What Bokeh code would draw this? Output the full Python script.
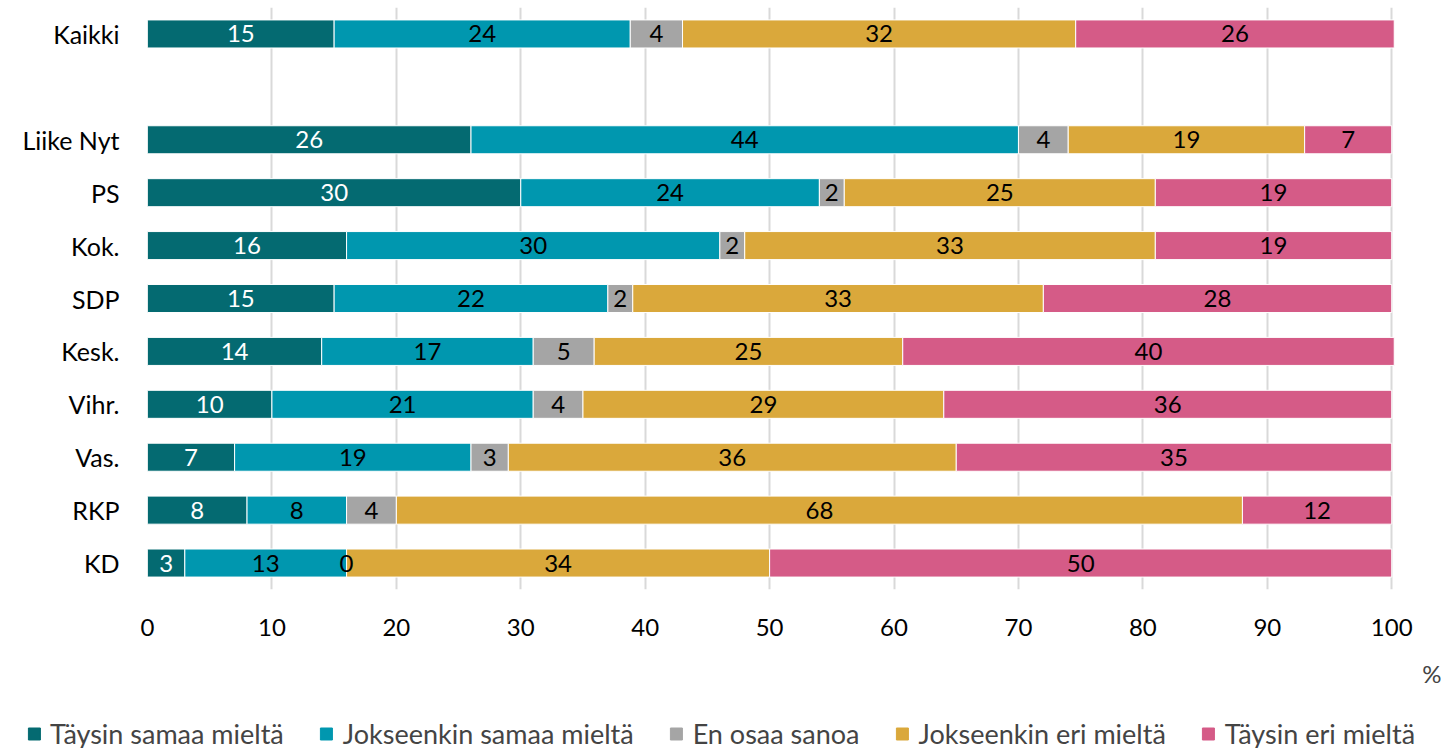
from bokeh.plotting import figure
from bokeh.layouts import column
from bokeh.models import ColumnDataSource, FactorRange, Range1d, Legend, LegendItem, Title, FixedTicker
from bokeh.core.properties import value
from bokeh.embed import file_html
from bokeh.resources import INLINE

# ---- data ----
rows = ["Kaikki", " ", "Liike Nyt", "PS", "Kok.", "SDP", "Kesk.", "Vihr.", "Vas.", "RKP", "KD"]
groups = ["Kaikki", "Liike Nyt", "PS", "Kok.", "SDP", "Kesk.", "Vihr.", "Vas.", "RKP", "KD"]
series = ["Täysin samaa mieltä", "Jokseenkin samaa mieltä", "En osaa sanoa",
          "Jokseenkin eri mieltä", "Täysin eri mieltä"]
taysin_samaa = [15.0, 26, 30, 16, 15, 14.0, 10, 7, 8, 3]
jokseenkin_samaa = [23.8, 44, 24, 30, 22, 17.0, 21, 19, 8, 13]
en_osaa = [4.2, 4, 2, 2, 2, 4.9, 4, 3, 4, 0]
jokseenkin_eri = [31.6, 19, 25, 33, 33, 24.8, 29, 36, 68, 34]
taysin_eri = [25.6, 7, 19, 19, 28, 39.5, 36, 35, 12, 50]
x_ticks = [0, 10, 20, 30, 40, 50, 60, 70, 80, 90, 100]
unit_label = "%"

colors = ["#046A71", "#0097AF", "#A5A5A5", "#DAA83B", "#D55B87"]
label_colors = ["white", "black", "black", "black", "black"]
FONT = "Lato"

values = [taysin_samaa, jokseenkin_samaa, en_osaa, jokseenkin_eri, taysin_eri]
keys = ["s0", "s1", "s2", "s3", "s4"]

data = {"group": groups}
for k, v in zip(keys, values):
    data[k] = v
src = ColumnDataSource(data)

p = figure(frame_width=1294, frame_height=582, output_backend="svg", toolbar_location=None,
           title=None,
           y_range=FactorRange(factors=list(reversed(rows))),
           x_range=Range1d(0, 104),
           min_border_left=147, min_border_right=0, min_border_top=7,
           min_border_bottom=0)
p.outline_line_color = None

renderers = p.hbar_stack(keys, y="group", height=0.53, color=colors, source=src,
                         line_color="white", line_width=1)

# segment labels
for i, (v, lc) in enumerate(zip(values, label_colors)):
    xs, ys, ts = [], [], []
    for j, g in enumerate(groups):
        start = sum(values[k][j] for k in range(i))
        xs.append(start + v[j] / 2.0)
        ys.append(g)
        ts.append("%.0f" % v[j])
    p.text(x=xs, y=ys, text=ts, text_align="center", text_baseline="middle",
           text_color=lc, text_font=value(FONT), text_font_size="24px")

# axes
p.xaxis.ticker = FixedTicker(ticks=x_ticks)
p.xaxis.axis_line_color = None
p.xaxis.major_tick_line_color = None
p.xaxis.minor_tick_line_color = None
p.xaxis.major_tick_out = 0
p.xaxis.major_label_standoff = 29
p.xaxis.major_label_text_font = FONT
p.xaxis.major_label_text_font_size = "24px"
p.xaxis.major_label_text_color = "black"

p.yaxis.axis_line_color = None
p.yaxis.major_tick_line_color = None
p.yaxis.major_tick_out = 0
p.yaxis.major_label_standoff = 28
p.yaxis.major_label_text_font = FONT
p.yaxis.major_label_text_font_size = "25px"
p.yaxis.major_label_text_color = "black"

p.xgrid.grid_line_color = "#D9D9D9"
p.xgrid.grid_line_width = 2
p.ygrid.grid_line_color = None

# "%" unit label
t = Title(text=unit_label, align="right", text_font=FONT, text_font_size="24px",
          text_font_style="normal", standoff=37)
p.add_layout(t, "below")

# legend in its own strip below the chart
p2 = figure(frame_width=1441, frame_height=44, output_backend="svg", toolbar_location=None,
            title=None, x_range=Range1d(0, 1), y_range=Range1d(0, 1),
            min_border_left=0, min_border_right=0, min_border_top=0, min_border_bottom=0)
p2.axis.visible = False
p2.grid.visible = False
p2.outline_line_color = None
items = []
for s, c in zip(series, colors):
    r = p2.rect(x="x", y="y", width=0.01, height=0.01, color=c,
                source=ColumnDataSource(dict(x=[-5.0], y=[-5.0])))
    items.append(LegendItem(label=s, renderers=[r]))
leg = Legend(items=items, orientation="horizontal", location="bottom_center",
             label_text_font=FONT, label_text_font_size="27px",
             glyph_width=15, glyph_height=15, label_standoff=9, spacing=35,
             padding=0, margin=0, border_line_alpha=0, background_fill_alpha=0)
p2.add_layout(leg, "center")

layout = column(p, p2, spacing=0)
open("out.html", "w").write(file_html(layout, INLINE))
